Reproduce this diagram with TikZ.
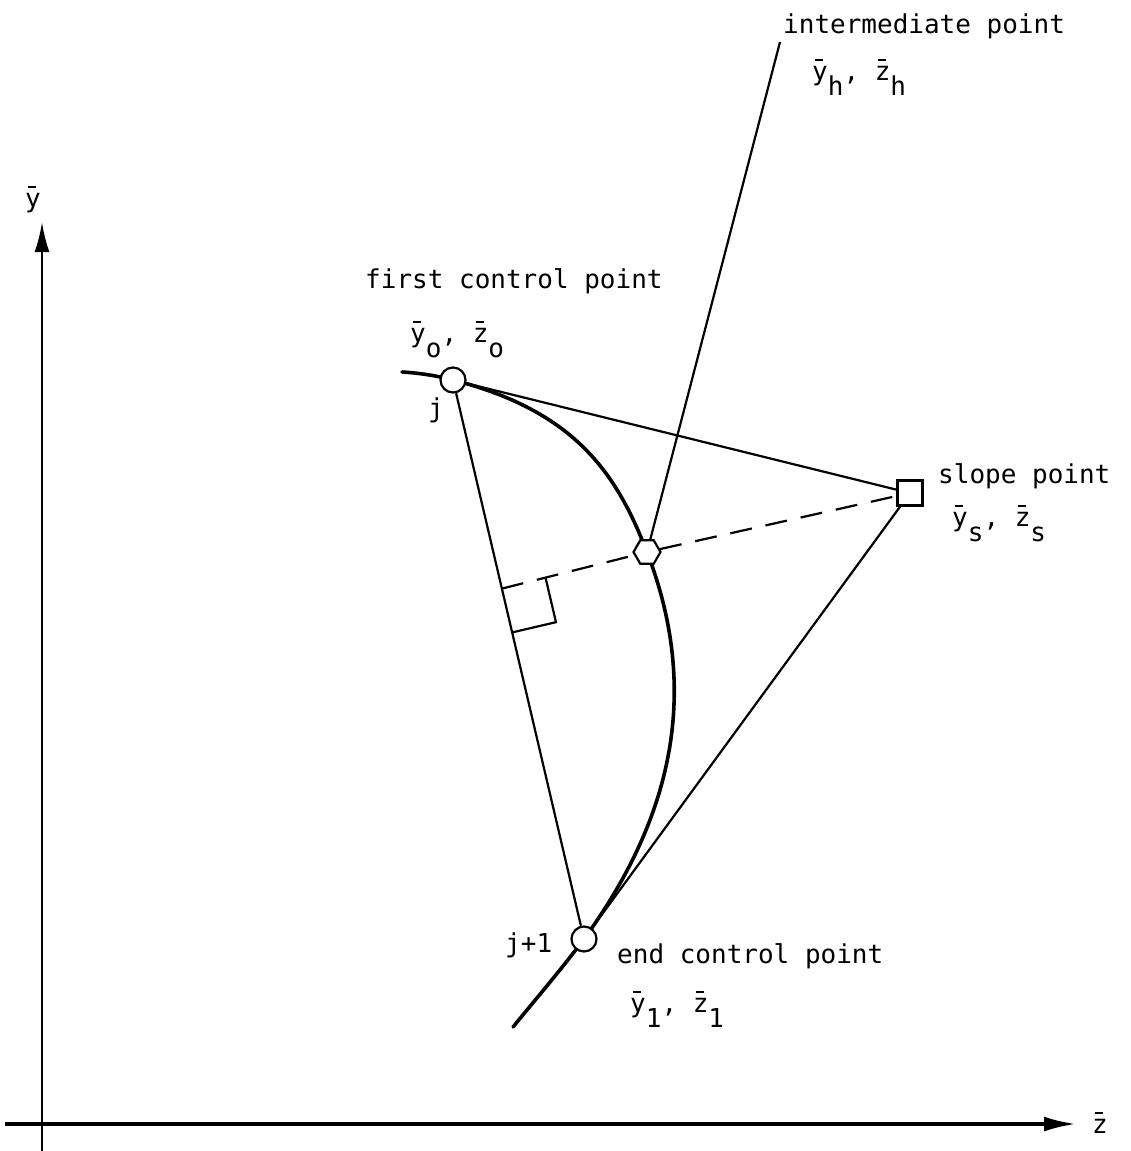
\documentclass[tikz,border=0pt]{standalone}
\usepackage{fontspec}
\setmainfont{DejaVu Sans Mono}
\usetikzlibrary{arrows.meta,shapes.geometric,calc}
\newcommand\ob[1]{\leavevmode\rlap{\hbox to 0.55em{\hss\raisebox{0.72em}{\rule{0.3em}{0.09em}}\hss}}#1}
\newcommand\sbx[1]{\raisebox{-0.6em}{#1}}
\begin{document}
\begin{tikzpicture}[x=1pt,y=-1pt,
  font=\fontsize{26}{30}\selectfont,
  thinline/.style={line width=2.2pt},
  ctrl/.style={circle,draw,line width=2.2pt,fill=white,minimum size=25pt,inner sep=0pt},
  hexnode/.style={regular polygon,regular polygon sides=6,draw,line width=2.2pt,fill=white,minimum size=27pt,inner sep=0pt},
  sqnode/.style={rectangle,draw,line width=2.2pt,fill=white,minimum size=25pt,inner sep=0pt},
  lbl/.style={inner sep=0pt,anchor=base west},
  dashline/.style={line width=2.2pt,dash pattern=on 22pt off 14pt}]
\useasboundingbox (0,0) rectangle (1130,1151);
% axes
\coordinate (ybot) at (42,1151);
\coordinate (ytop) at (42,222);
\coordinate (zl) at (5,1124);
\coordinate (zr) at (1076,1124);
\draw[line width=2.6pt,-{Latex[length=30pt,width=15pt]}] (ybot) -- (ytop);
\draw[line width=3.4pt,-{Latex[length=32pt,width=15pt]}] (zl) -- (zr);
\node[lbl] (ylab) at (25,207) {\ob{y}};
\node[lbl] (zlab) at (1092,1133) {\ob{z}};
% curve
\draw[line width=3.6pt,line cap=round]
  (402,372) .. controls (420,373) and (438,376) .. (453,380)
  .. controls (579,412) and (618,478) .. (647,552)
  .. controls (701,692) and (672,818) .. (584,939)
  .. controls (560,971) and (535,1000) .. (513,1027);
% points
\node[ctrl] (P0) at (453,380) {};
\node[ctrl] (P1) at (584,939) {};
\node[sqnode] (Ps) at (910,493) {};
\node[hexnode] (H) at (647,552) {};
\coordinate (itop) at (780,42);
\coordinate (F) at ($(P0)!(Ps)!(P1)$);
\coordinate (e1) at ($(P1)!28pt!(Ps)$);
\coordinate (ra1) at ($(F)!45pt!(Ps)$);
\coordinate (ra3) at ($(F)!45pt!(P1)$);
\coordinate (ra2) at ($(ra1)+(ra3)-(F)$);
% lines
\draw[thinline] (P0) -- (P1);
\draw[thinline] (P0) -- (Ps);
\draw[thinline] (Ps) -- (e1);
\draw[thinline] (H) -- (itop);
\draw[dashline] (F) -- (H);
\draw[dashline] (H) -- (Ps);
\draw[thinline] (ra1) -- (ra2) -- (ra3);
% labels
\node[lbl] (lint) at (783,33) {intermediate point};
\node[lbl] (lintc) at (812,80) {\ob{y}\sbx{h}, \ob{z}\sbx{h}};
\node[lbl] (lfirst) at (365,288) {first control point};
\node[lbl] (lfirstc) at (410,342) {\ob{y}\sbx{o}, \ob{z}\sbx{o}};
\node[lbl] (lj) at (428,417) {j};
\node[lbl] (lslope) at (938,483) {slope point};
\node[lbl] (lslopec) at (952,526) {\ob{y}\sbx{s}, \ob{z}\sbx{s}};
\node[lbl] (lj1) at (505,952) {j+1};
\node[lbl] (lend) at (617,963) {end control point};
\node[lbl] (lendc) at (630,1012) {\ob{y}\sbx{1}, \ob{z}\sbx{1}};
\end{tikzpicture}
\end{document}
